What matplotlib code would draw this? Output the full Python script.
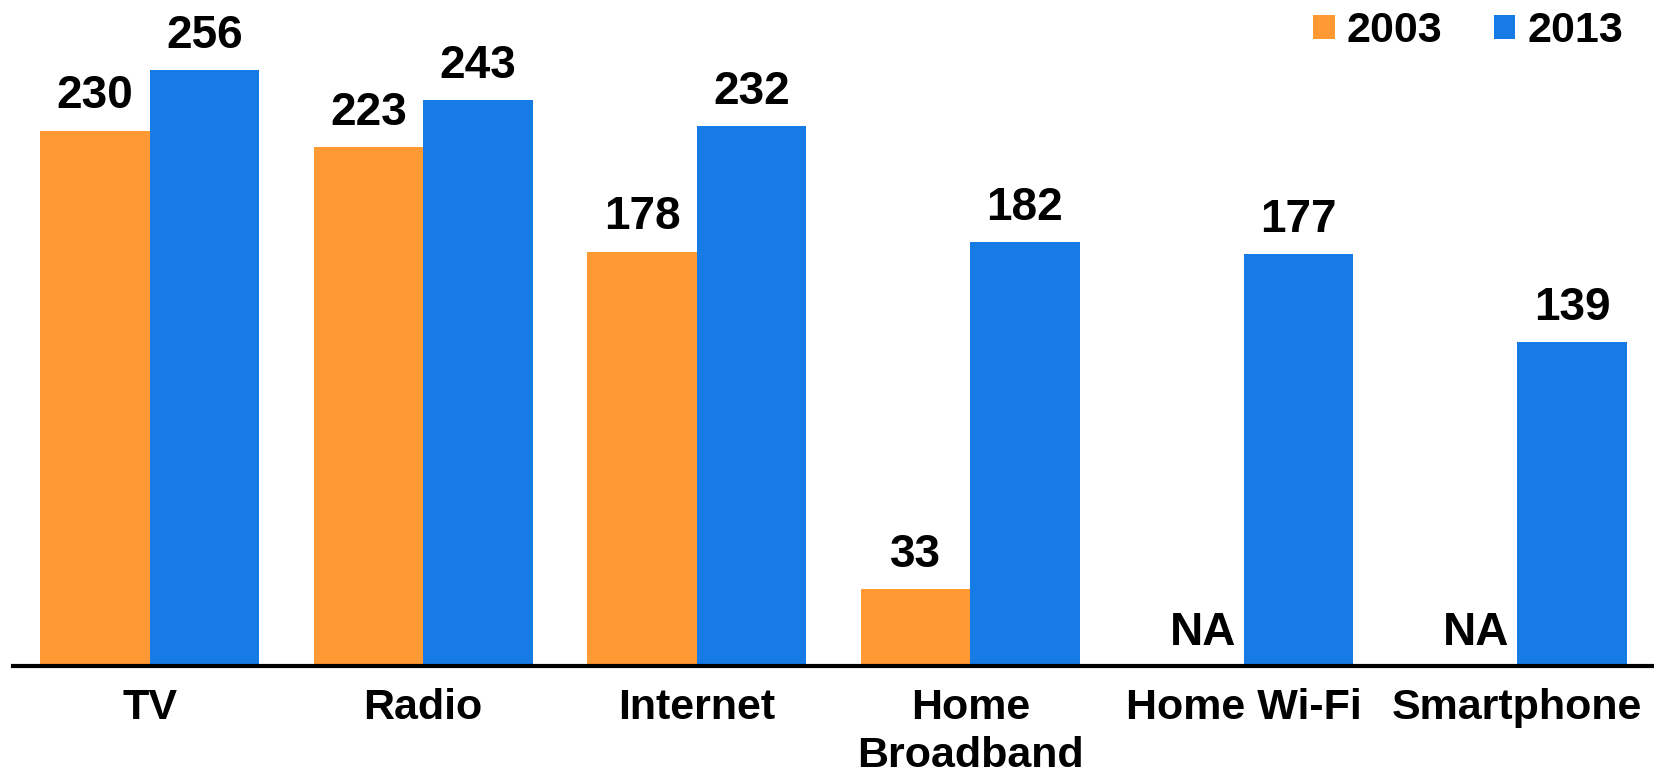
import matplotlib
matplotlib.use("Agg")
import matplotlib.pyplot as plt
from matplotlib.patches import Patch
import numpy as np

categories = ["TV", "Radio", "Internet", "Home\nBroadband", "Home Wi-Fi", "Smartphone"]
values_2003 = [230, 223, 178, 33, None, None]
values_2013 = [256, 243, 232, 182, 177, 139]
series_names = ["2003", "2013"]
na_label = "NA"

c2003 = "#FF9933"
c2013 = "#167BE5"

plt.rcParams["font.family"] = ["Liberation Sans", "DejaVu Sans"]
plt.rcParams["font.weight"] = "bold"

W, H, DPI = 1654, 772, 100
fig = plt.figure(figsize=(W / DPI, H / DPI), dpi=DPI)
ax_bottom = 106 / H
ax = fig.add_axes([13 / W, ax_bottom, 1 - 13 / W, 1 - ax_bottom])

x = np.arange(len(categories))
bw = 0.4
v03 = [v if v is not None else 0 for v in values_2003]
ax.bar(x - bw / 2, v03, bw, color=c2003, linewidth=0, zorder=2)
ax.bar(x + bw / 2, values_2013, bw, color=c2013, linewidth=0, zorder=2)

fs_val = 33
for i, v in enumerate(values_2003):
    if v is None:
        ax.annotate(na_label, xy=(x[i] - bw / 2, 0), xytext=(10, 15), textcoords="offset points",
                    ha="center", va="baseline", fontsize=fs_val, fontweight="bold")
    else:
        ax.annotate(str(v), xy=(x[i] - bw / 2, v), xytext=(0, 16), textcoords="offset points",
                    ha="center", va="baseline", fontsize=fs_val, fontweight="bold")
for i, v in enumerate(values_2013):
    ax.annotate(str(v), xy=(x[i] + bw / 2, v), xytext=(0, 16), textcoords="offset points",
                ha="center", va="baseline", fontsize=fs_val, fontweight="bold")

ax.set_xlim(-0.5, 5.5)
ax.set_ylim(0, 666 / 2.328)
ax.set_yticks([])
ax.set_xticks(x)
ax.set_xticklabels(categories, fontsize=31, fontweight="bold", linespacing=1.25)
ax.tick_params(axis="x", length=0, pad=16)
for s in ["left", "right", "top"]:
    ax.spines[s].set_visible(False)
ax.spines["bottom"].set_linewidth(3)
ax.spines["bottom"].set_color("black")
ax.spines["bottom"].set_zorder(3)

handles = [Patch(facecolor=c2003, edgecolor="none"), Patch(facecolor=c2013, edgecolor="none")]
fig.legend(handles, series_names, loc="upper right", bbox_to_anchor=(0.984, 0.991), ncol=2,
           frameon=False, prop={"size": 31, "weight": "bold"}, handlelength=0.5, handleheight=0.5,
           handletextpad=0.28, columnspacing=1.2, borderaxespad=0.0, borderpad=0.1)

fig.savefig("out.png", dpi=DPI)
